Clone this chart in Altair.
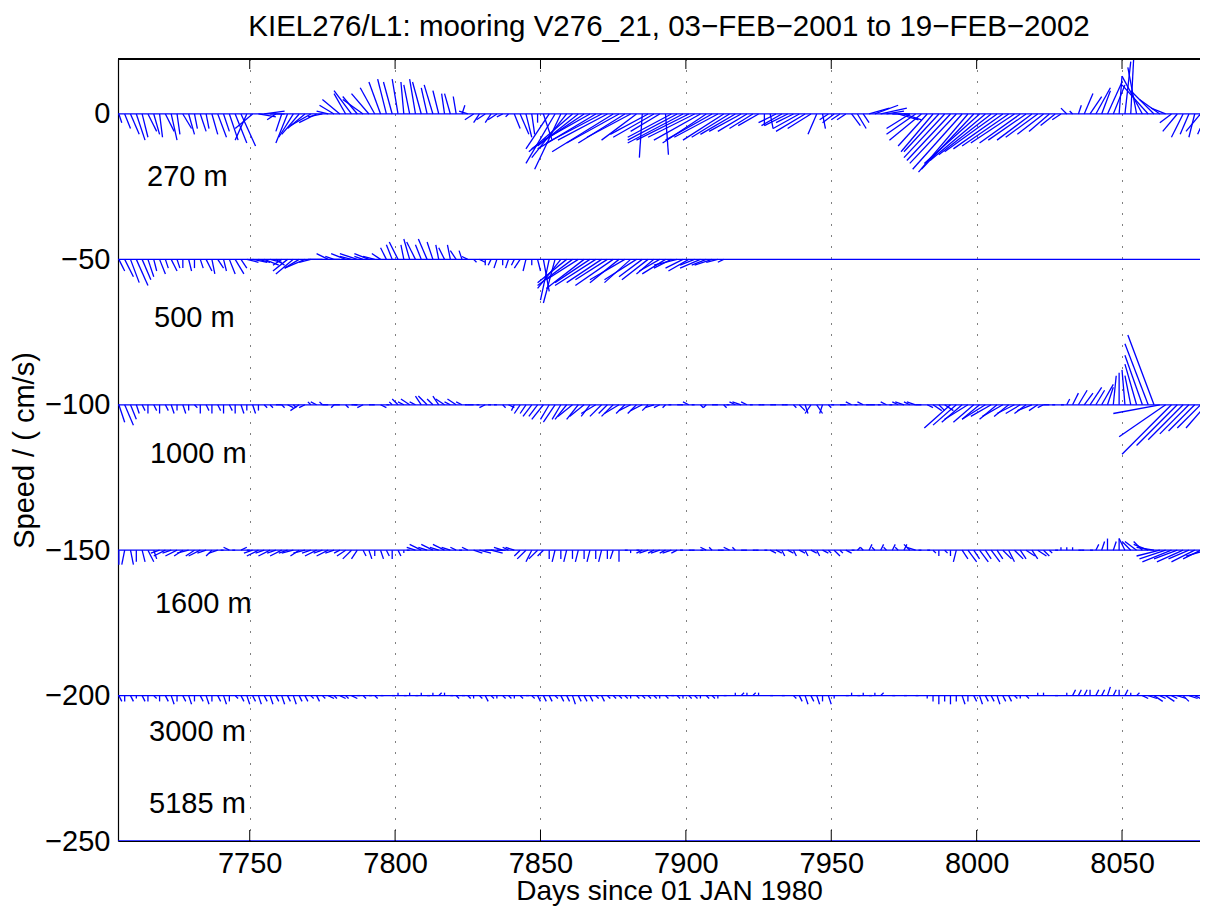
import altair as alt
import pandas as pd

FONT = "Liberation Sans"
BLUE = "#0000ff"

# ---------------- data ----------------
depths = ["270 m", "500 m", "1000 m", "1600 m", "3000 m", "5185 m"]
offsets = [0, -50, -100, -150, -200, -250]
record_start = 7704   # 03-FEB-2001
record_end = 8085     # 19-FEB-2002
first_day = 7705
step_days = 2

x_ticks = [7750, 7800, 7850, 7900, 7950, 8000, 8050]
y_ticks = [-250, -200, -150, -100, -50, 0]

u_270 = [1, 2, 3, 3, 2, 3, 2, 1, 3, 2,
         1, 3, 2, 1, 2, 1, 2, 3, 2, 3,
         4, 5, -4, -6, 6, 7, 5, -3, -2, -4,
         -5, -6, -6, -7, -6, -5, -4, -5, -6, -4,
         -6, -5, -7, -6, -5, -4, -3, -3, -2, -1,
         -2, -2, -3, -2, -3, -2, -1, -2, -1, 1,
         -3, -3, -2, -3, -2, -3, -2, -1, 2, 3,
         2, 1, 0, 3, -8, -10, -9, -12, -15, -14,
         -18, -16, -20, -19, -17, -21, -18, -16, -15, -12,
         -1, -13, -14, -10, 1, -15, -17, -19, -18, -16,
         -16, -15, -16, -15, -14, -13, -12, -11, -10, -8,
         -7, 0, 1, -6, -7, -8, -6, -9, -10, -8,
         -3, 1, -3, -4, -3, -3, 3, 3, 2, 7,
         8, 9, 6, 6, 7, 6, -8, -10, -11, -10,
         -11, -12, -14, -15, -16, -17, -17, -18, -19, -19,
         -18, -18, -17, -16, -15, -14, -13, -12, -11, -9,
         -7, -5, -3, -2, -1, 1, 3, 4, 5, 3,
         5, 4, 1, 2, 1, -3, -7, -9, -8, -7,
         -5, -4, -5, -4, -3, -2, -5, -3]
v_270 = [-3, -5, -7, -9, -8, -6, -7, -8, -6, -9,
         -7, -5, -7, -5, -6, -5, -7, -8, -6, -9,
         -10, -11, -9, -5, -1, 1, 0, -2, -6, -10,
         -8, -7, -5, -4, -3, -1, 1, 3, 5, 7,
         8, 6, 5, 7, 9, 11, 12, 11, 12, 11,
         10, 12, 11, 9, 10, 8, 7, 7, 6, 3,
         1, -2, -3, -2, -3, -2, -1, -1, -5, -7,
         -8, -7, -3, -9, -12, -17, -19, -15, -13, -11,
         -12, -9, -12, -10, -9, -13, -10, -10, -8, -9,
         -15, -7, -8, -6, -14, -8, -9, -10, -9, -8,
         -9, -10, -9, -8, -9, -8, -7, -6, -6, -5,
         -4, -4, -5, -3, -4, -4, -3, -5, -6, -5,
         -7, -5, -2, -3, -2, -2, -4, -5, -3, 2,
         3, 2, 1, 0, -2, -2, -5, -7, -9, -11,
         -13, -13, -15, -16, -17, -19, -20, -19, -17, -16,
         -14, -13, -12, -11, -10, -10, -9, -9, -8, -7,
         -6, -4, -2, 2, 1, 3, 7, 6, 9, 8,
         11, 10, 13, 18, 19, 16, 13, 10, 8, 5,
         2, -3, -6, -8, -7, -8, -6, -7]

# the 500 m record stops after day ~7913; only the baseline continues
u_500 = [2, 3, 3, 4, 3, 2, 1, 2, 1, 2,
         1, 0, 1, 0, 1, 2, 1, 2, 1, 2,
         3, 2, 4, 5, 4, 5, 4, 3, -3, -5,
         -6, -5, -7, -4, -3, -2, -4, -3, -2, -5,
         -4, -6, -3, -5, -4, -3, -2, -2, -3, -1,
         -2, -3, -2, -3, -2, -1, -2, -1, -2, -1,
         -2, 1, 2, 0, -1, -1, 0, -1, -1, -2,
         -1, 0, 1, 2, -3, -4, -8, -10, -12, -11,
         -13, -12, -14, -12, -11, -13, -10, -12, -9, -11,
         -8, -9, -6, -7, -8, -6, -8, -6, -7, -5,
         -7, -5, -6, -4, -2]
v_500 = [-4, -6, -8, -9, -7, -6, -4, -5, -3, -4,
         -3, -3, -4, -3, -3, -4, -5, -3, -4, -5,
         -5, -3, -1, -1, -1, -2, -1, -2, -2, -4,
         -5, -3, -3, -1, 0, 0, 2, 1, 0, 2,
         1, 2, 1, 2, 1, 2, 4, 5, 6, 5,
         7, 6, 5, 7, 6, 5, 4, 5, 3, 3,
         1, -1, -1, -2, -2, -3, -2, -3, -2, -3,
         -4, -2, -4, -11, -14, -15, -10, -8, -9, -7,
         -10, -8, -9, -8, -7, -9, -8, -7, -8, -7,
         -6, -7, -5, -4, -5, -3, -2, -3, -4, -2,
         -3, -2, -2, -1, -1]

u_1000 = [2, 3, 2, 1, 1, 0, 1, 0, 1, 1,
          0, 1, 0, 1, 0, 1, 0, 1, 0, 1,
          0, 1, 0, 1, 0, 1, 1, 2, 1, 2,
          1, -3, -2, -1, -2, -1, -2, -1, -2, 1,
          2, -1, -2, 1, -1, 2, 1, -1, -2, -2,
          -3, -2, -2, -3, -2, -2, -3, -2, -3, -2,
          -1, -2, -1, -2, -1, -1, 1, 2, -1, -2,
          -2, -3, -3, -4, -3, -4, -3, -4, -5, -4,
          -5, -3, -5, -4, -3, -4, -5, -3, -4, -3,
          -4, -2, -3, -2, -1, -1, 1, -1, -2, -1,
          1, -1, 1, -1, 1, -1, -2, -3, -2, -1,
          1, -1, 1, -1, 1, -1, 1, 2, 1, -2,
          2, -1, 1, -1, 1, -1, -2, -1, -2, -1,
          -2, -1, -2, -1, -2, -3, -2, -3, -2, 2,
          3, 2, 3, -9, -8, -7, -8, -7, -6, -8,
          -7, -6, -7, -5, -6, -5, -4, -5, -3, -2,
          -2, -1, 1, 1, 2, 3, 3, 4, 3, 4,
          2, 1, 0, -1, -2, -4, -6, -8, -9, -16,
          -16, -17, -14, -12, -10, -9, -8, -7]
v_1000 = [-6, -7, -5, -3, -2, -3, -2, -3, -2, -3,
          -2, -3, -2, -1, -3, -2, -3, -2, -3, -2,
          -3, -3, -2, -3, -2, -1, -1, 0, -1, -1,
          -1, -2, -1, 1, 1, 1, 0, -1, 0, -1,
          0, 0, -1, 0, 0, -1, 0, 1, 2, 1,
          2, 1, 3, 3, 2, 3, 2, 1, 2, 1,
          0, 0, 0, -1, 0, 0, -1, -1, -2, -3,
          -3, -4, -4, -5, -5, -6, -5, -5, -4, -5,
          -4, -4, -3, -4, -3, -4, -3, -3, -2, -3,
          -2, -2, -1, -1, -1, 0, 0, 0, 1, 0,
          -1, -1, 0, 0, -1, 0, 1, 1, 1, 0,
          0, 0, 0, 0, 0, 0, -1, -2, -3, -3,
          -3, -3, -1, 0, 0, 0, 1, 0, 1, 0,
          0, 0, 1, 0, 1, 1, 1, 1, 0, -1,
          -2, -2, -2, -8, -7, -6, -5, -6, -5, -5,
          -4, -5, -4, -4, -3, -3, -3, -2, -2, -1,
          0, 0, 0, 2, 4, 5, 4, 6, 5, 7,
          6, 10, 11, 12, 10, 14, 17, 21, 24, -3,
          -11, -17, -14, -12, -10, -9, -8, -8]

u_1600 = [0, -1, 1, 0, 1, 2, 1, -3, -4, -3,
          -4, -3, -4, -3, -4, -3, -2, -3, -1, -2,
          -1, 2, 1, -3, -4, -3, -4, -3, -4, -3,
          -4, -3, -4, -3, -4, -3, -4, -3, -2, -3,
          -3, -2, 1, 1, 0, 1, 1, 0, 1, 0,
          -1, -3, -4, -3, -4, -3, -4, -3, -2, -1,
          -2, 3, 4, 3, 4, 3, -3, -2, -3, -2,
          -3, -2, -3, -2, 0, -1, 0, -1, 0, -1,
          0, -1, 0, -1, 0, -1, 0, 1, 0, 1,
          -2, -3, -2, -3, -2, -3, -2, -1, 1, -1,
          1, -2, -1, 1, -1, -2, -1, 1, -1, 1,
          -1, 1, 2, 2, 1, 2, 1, 2, 1, 2,
          1, 2, 1, 2, 1, 2, 1, 1, -1, 1,
          -1, 1, -1, 1, -1, 1, -2, -3, -1, 1,
          1, 0, 1, 0, -1, 2, 3, 2, 3, 2,
          3, 2, 3, 2, 3, 2, 3, 2, 3, 2,
          1, 1, 0, 0, 0, 1, -1, 1, 1, 1,
          0, 1, 0, -2, -3, -4, -3, -5, -6, -8,
          -9, -10, -8, -9, -7, -8, -6, -7]
v_1600 = [-5, -5, -5, -4, -4, -4, -3, -1, -2, -1,
          -2, -2, -1, -2, -2, -1, -2, -1, 0, 1,
          0, 1, 0, -1, -2, -1, -2, -1, -2, -1,
          -1, -2, -1, -1, -2, -1, -2, -1, -1, -2,
          -3, -3, -2, -3, -2, -3, -2, -3, -2, -1,
          0, 1, 2, 1, 2, 1, 2, 1, 1, 0,
          1, -1, -1, 0, -1, 0, 1, 1, 1, -2,
          -3, -4, -3, -2, -3, -4, -3, -4, -3, -4,
          -3, -4, -3, -4, -3, -3, -4, 0, -1, 0,
          -1, -1, -1, -1, -1, -1, -1, 0, 0, 0,
          0, 1, 1, 0, 0, 1, 1, 0, 0, 0,
          0, 0, -1, -1, -2, -1, -2, -1, -2, -1,
          -2, -1, -1, -2, -1, -1, 0, 1, 1, 2,
          1, 2, 1, 2, 1, 2, 2, 1, 0, 0,
          -1, -2, -1, -2, -4, -3, -4, -3, -4, -3,
          -4, -3, -3, -4, -3, -3, -2, -3, -2, -2,
          -1, 0, 1, 1, 1, 0, 0, 0, 2, 3,
          4, 3, 4, 4, 3, 3, 3, 2, 1, -2,
          -3, -4, -3, -4, -3, -4, -3, -2]

u_3000 = [1, 0, 1, 0, 1, 0, 1, 0, 1, 1,
          0, 1, 1, 0, 1, 1, 0, 1, 1, 0,
          1, 1, 1, 1, 1, 1, 1, 1, 1, 1,
          1, 1, 1, 1, 1, 1, 2, 1, 2, 1,
          2, 1, 1, 1, 1, 1, 0, 1, 0, 1,
          0, 1, 0, 1, 0, 1, 0, 1, 1, 1,
          1, 0, 1, 1, 1, 0, 1, 1, 0, 1,
          1, 1, 1, 1, 1, 1, 1, 1, 1, 1,
          1, 1, 1, 1, 1, 1, 1, 1, 0, 1,
          1, 1, 1, 0, 1, 1, 1, 0, 1, 1,
          0, 1, 1, 0, 1, 0, 0, 1, 0, 1,
          0, 0, 1, 0, 1, 0, 1, 1, 1, 1,
          1, 0, 1, 0, 0, 1, 0, 1, 0, 1,
          0, 1, 0, 1, 0, 1, 0, 1, 0, 0,
          0, 0, 0, 0, 0, 1, 0, 1, 1, 1,
          1, 1, 1, 1, 1, 0, 1, 0, 0, 0,
          0, 1, 0, 0, 1, 1, 1, 0, 1, 1,
          1, 1, 0, 1, 0, 1, 2, 3, 3, 2,
          3, 2, 3, 2, 3, 2, 3, 2]
v_3000 = [-2, -2, -2, -1, -2, -2, -1, -2, -2, -3,
          -2, -2, -3, -2, -2, -3, -2, -2, -3, -2,
          -1, -2, -3, -2, -3, -2, -3, -2, -3, -2,
          -3, -2, -2, -1, -2, -1, -1, -1, -1, -1,
          -1, 0, -1, 0, -1, 0, 0, 0, 1, 0,
          1, 0, 1, 0, 1, 1, 1, 0, -1, 0,
          -1, -1, -1, -2, -1, -1, -1, -1, -1, -1,
          0, -1, -2, -2, -2, -1, -2, -2, -3, -2,
          -2, -2, -1, -2, -1, -1, -1, -1, -1, -1,
          -1, -1, -1, -1, -1, 0, -1, -1, -1, -1,
          -1, -1, -1, -1, 0, 0, 1, 1, 1, 1,
          1, 0, 0, 0, 0, 0, -1, -2, -3, -2,
          -3, -2, -3, -1, 0, 0, 1, 0, 1, 0,
          1, 1, 0, 0, 0, 0, 0, 0, 0, -1,
          -2, -3, -2, -3, -2, -3, -2, -2, -3, -2,
          -2, -3, -2, -2, -1, -1, -1, 0, 1, 1,
          0, 0, 0, 1, 2, 2, 2, 2, 2, 2,
          3, 2, 2, 2, 1, 1, -1, -1, -2, -1,
          -2, -1, -1, -2, -1, -1, -1, -1]

series_u = [u_270, u_500, u_1000, u_1600, u_3000]
series_v = [v_270, v_500, v_1000, v_1600, v_3000]

# ---------------- tables (all layers share the field names t / y) ----------------
rows = []
for name, off, us, vs in zip(depths, offsets, series_u, series_v):
    for i, (uu, vv) in enumerate(zip(us, vs)):
        rows.append({"depth": name, "t": first_day + step_days * i,
                     "y": off, "u": uu, "v": vv})
sticks = pd.DataFrame(rows)

baselines = pd.DataFrame({"depth": depths, "y": offsets,
                          "t": [record_start] * len(depths),
                          "tend": [record_end] * len(depths)})

# label anchors (layout, in axis units)
label_t = [7714.7, 7717.1, 7715.7, 7717.4, 7715.4, 7715.4]
label_y = [-21.8, -70.0, -116.8, -168.4, -212.4, -237.2]
labels = pd.DataFrame({"depth": depths, "t": label_t, "y": label_y})
ticks_df = pd.DataFrame({"t": x_ticks})

# ---------------- chart ----------------
W, H = 1082, 782
PX_PER_DAY = 2.9077
X0 = 7704.7
X1 = X0 + W / PX_PER_DAY
xscale = alt.Scale(domain=[X0, X1], nice=False, zero=False)
yscale = alt.Scale(domain=[-250, 18.9], nice=False, zero=False)

x_axis = alt.Axis(values=x_ticks, title="Days since 01 JAN 1980", grid=True,
                  gridDash=[1, 10], gridColor="black", gridWidth=1, gridOpacity=1,
                  ticks=False, labelFontSize=29, titleFontSize=28,
                  labelFont=FONT, titleFont=FONT, titleFontWeight="normal",
                  labelColor="black", titleColor="black", labelPadding=8,
                  titleX=551, titleY=58, titleAlign="center", titleBaseline="alphabetic",
                  domainColor="black", domainWidth=1,
                  labelFlush=False, labelOverlap=False, format="d")
y_axis = alt.Axis(values=y_ticks, title="Speed / ( cm/s)", grid=False, ticks=False,
                  labelFontSize=29, titleFontSize=29, labelFont=FONT, titleFont=FONT,
                  titleFontWeight="normal", labelColor="black", titleColor="black",
                  labelPadding=8, titleX=-85, titleY=H / 2, titleAngle=270,
                  titleAlign="center", titleBaseline="alphabetic",
                  domainColor="black", domainWidth=1.2, labelOverlap=False)

X = alt.X("t:Q", scale=xscale, axis=x_axis)
Y = alt.Y("y:Q", scale=yscale, axis=y_axis)

base_layer = alt.Chart(baselines).mark_rule(color=BLUE, strokeWidth=1.3, clip=True).encode(
    x=X, x2="tend:Q", y=Y,
)

stick_layer = alt.Chart(sticks).mark_rule(color=BLUE, strokeWidth=1.3, clip=True).transform_calculate(
    tip_t="datum.t + datum.u", tip_y="datum.y + datum.v"
).encode(
    x=X, x2="tip_t:Q", y=Y, y2="tip_y:Q",
)

label_layer = alt.Chart(labels).mark_text(
    align="left", baseline="middle", font=FONT, fontSize=29, color="black"
).encode(
    x=X, y=Y, text="depth:N",
)

top_border = alt.Chart(ticks_df).mark_rule(color="black", strokeWidth=1).encode(
    x=alt.value(0), x2=alt.value(W), y=alt.value(0)
)
top_ticks = alt.Chart(ticks_df).mark_rule(color="black", strokeWidth=1).encode(
    x=X, y=alt.value(0), y2=alt.value(10)
)
bottom_ticks = alt.Chart(ticks_df).mark_rule(color="black", strokeWidth=1).encode(
    x=X, y=alt.value(H), y2=alt.value(H - 11)
)

chart = alt.layer(
    base_layer, stick_layer, label_layer, top_border, top_ticks, bottom_ticks
).properties(
    width=W, height=H,
    background="white",
    title=alt.Title("KIEL276/L1: mooring V276_21, 03\u2212FEB\u22122001 to 19\u2212FEB\u22122002",
                    font=FONT, fontSize=29.5, fontWeight="normal", color="black",
                    anchor="middle", offset=16, dx=10),
    autosize=alt.AutoSizeParams(type="none"),
    padding={"left": 110, "top": 51, "right": 0, "bottom": 65},
).configure_view(stroke=None)

chart.save("out.html", embed_options={"renderer": "svg", "actions": False})
